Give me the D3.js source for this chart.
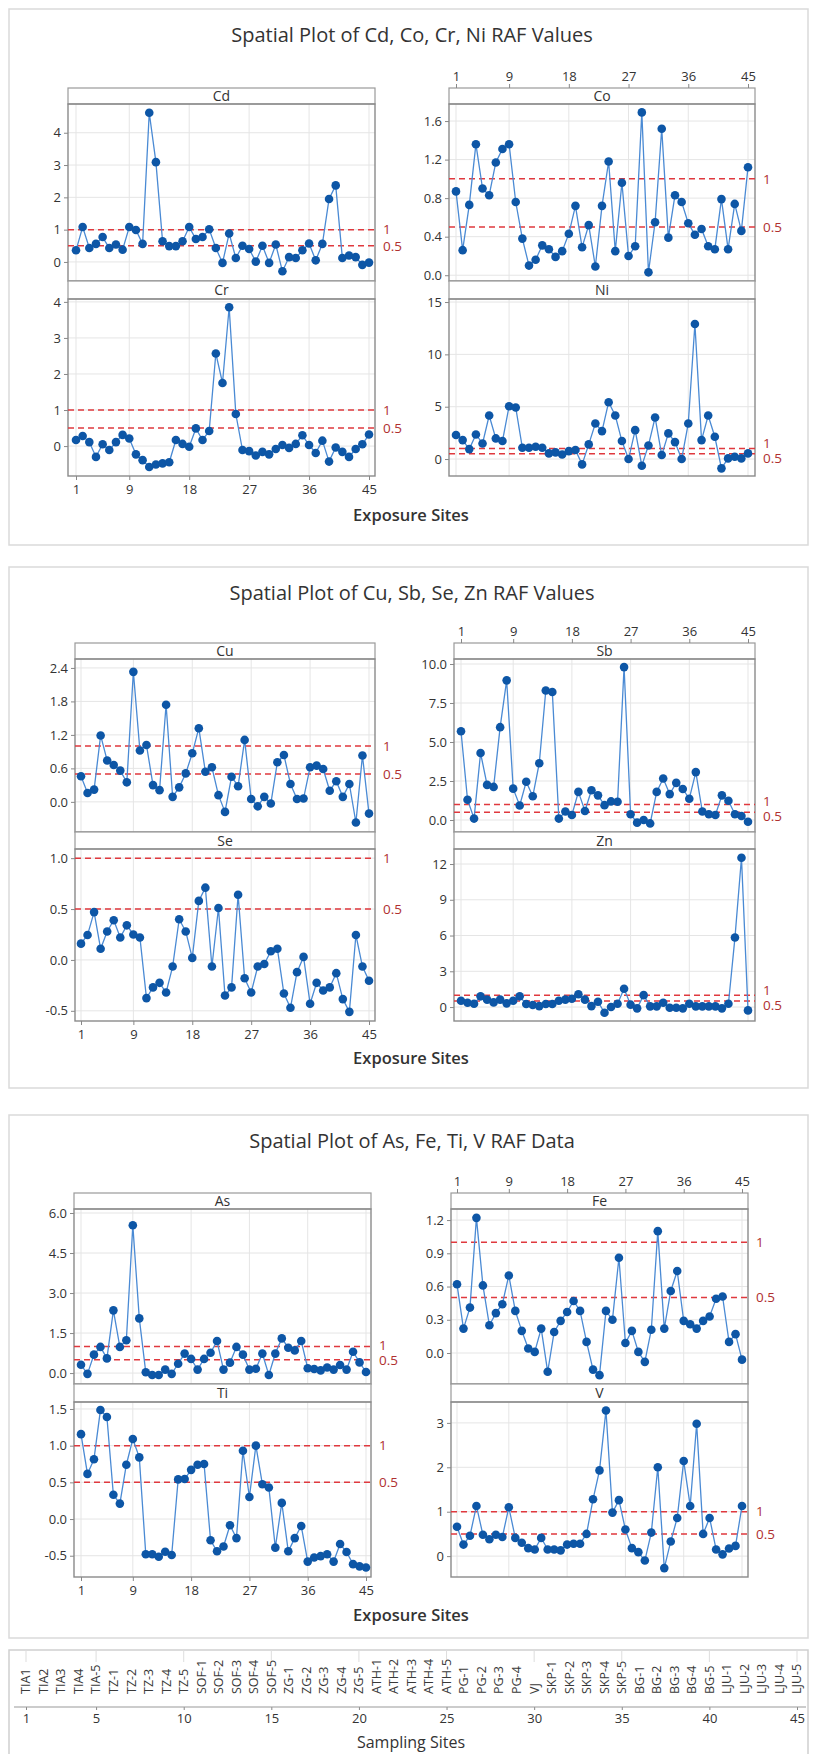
<!DOCTYPE html>
<html><head><meta charset="utf-8">
<script src="https://cdn.jsdelivr.net/npm/d3@7"></script>
<style>body{margin:0;background:#fff;} svg{display:block;font-family:"Open Sans","Noto Sans",sans-serif;}</style>
</head><body><svg id="c" width="816" height="1754"></svg>
<script>
// ---------- data ----------
const sites = d3.range(1, 46);
const siteLabels = ["TIA1","TIA2","TIA3","TIA4","TIA-5","TZ-1","TZ-2","TZ-3","TZ-4","TZ-5",
  "SOF-1","SOF-2","SOF-3","SOF-4","SOF-5","ZG-1","ZG-2","ZG-3","ZG-4","ZG-5",
  "ATH-1","ATH-2","ATH-3","ATH-4","ATH-5","PG-1","PG-2","PG-3","PG-4","VJ",
  "SKP-1","SKP-2","SKP-3","SKP-4","SKP-5","BG-1","BG-2","BG-3","BG-4","BG-5",
  "LJU-1","LJU-2","LJU-3","LJU-4","LJU-5"];
const xTicks = [1, 9, 18, 27, 36, 45];
const samplingTicks = [1, 5, 10, 15, 20, 25, 30, 35, 40, 45];
const refLevels = [1, 0.5];
const refLabels = ["1", "0.5"];

const cd = [0.36,1.08,0.43,0.56,0.77,0.43,0.54,0.38,1.08,0.99, 0.56,4.62,3.09,0.64,0.49,0.49,0.64,1.08,0.71,0.77,
  1.01,0.43,-0.03,0.88,0.12,0.5,0.4,0.01,0.5,-0.03, 0.54,-0.29,0.15,0.12,0.36,0.57,0.05,0.56,1.95,2.37, 0.12,0.2,0.15,-0.09,-0.02];
const co = [0.87,0.26,0.73,1.36,0.9,0.83,1.17,1.31,1.36,0.76, 0.38,0.1,0.16,0.31,0.27,0.19,0.25,0.43,0.72,0.29,
  0.52,0.09,0.72,1.18,0.25,0.96,0.2,0.3,1.69,0.03, 0.55,1.52,0.39,0.83,0.76,0.54,0.42,0.48,0.3,0.27, 0.79,0.27,0.74,0.46,1.12];
const cr = [0.17,0.28,0.11,-0.3,0.05,-0.11,0.11,0.31,0.21,-0.23, -0.39,-0.58,-0.51,-0.48,-0.45,0.17,0.06,-0.02,0.49,0.17,
  0.42,2.57,1.75,3.85,0.89,-0.11,-0.14,-0.26,-0.16,-0.23, -0.08,0.03,-0.05,0.06,0.3,0.03,-0.19,0.15,-0.43,-0.04, -0.16,-0.3,-0.08,0.05,0.32];
const ni = [2.29,1.81,0.95,2.35,1.49,4.16,1.97,1.72,5.05,4.93, 1.08,1.08,1.18,1.08,0.54,0.64,0.44,0.76,0.86,-0.51,
  1.4,3.4,2.67,5.43,4.16,1.72,0,2.76,-0.64,1.3, 3.97,0.38,2.45,1.62,0,3.4,12.9,1.81,4.16,2.13, -0.89,0.06,0.22,0.06,0.54];
const cu = [0.46,0.16,0.22,1.19,0.74,0.66,0.56,0.35,2.33,0.92, 1.02,0.3,0.21,1.74,0.09,0.26,0.51,0.87,1.32,0.54,
  0.62,0.12,-0.18,0.45,0.28,1.11,0.05,-0.08,0.09,-0.03, 0.71,0.84,0.32,0.05,0.06,0.62,0.65,0.59,0.2,0.37, 0.09,0.32,-0.37,0.83,-0.21];
const sb = [5.69,1.3,0.09,4.29,2.25,2.12,5.95,8.95,2.01,0.93, 2.45,1.52,3.64,8.3,8.2,0.09,0.54,0.32,1.8,0.58,
  1.91,1.58,0.95,1.19,1.17,9.8,0.37,-0.17,0,-0.22, 1.8,2.66,1.66,2.38,1.99,1.36,3.07,0.54,0.37,0.32, 1.58,1.23,0.37,0.26,-0.11];
const se = [0.16,0.245,0.47,0.11,0.28,0.39,0.22,0.34,0.25,0.22, -0.375,-0.27,-0.225,-0.32,-0.065,0.4,0.28,0.02,0.58,0.71,
  -0.065,0.51,-0.35,-0.27,0.64,-0.18,-0.32,-0.065,-0.04,0.085, 0.11,-0.33,-0.47,-0.12,0.03,-0.43,-0.225,-0.3,-0.27,-0.13, -0.385,-0.51,0.245,-0.065,-0.205];
const zn = [0.53,0.36,0.28,0.9,0.62,0.39,0.62,0.31,0.53,0.9, 0.25,0.17,0.08,0.25,0.25,0.53,0.62,0.7,1.07,0.62,
  0.08,0.45,-0.48,0,0.28,1.54,0.2,-0.11,1.0,0.06, 0.06,0.36,-0.06,-0.06,-0.11,0.28,0.06,0.06,0.06,0.06, -0.11,0.28,5.83,12.53,-0.28];
const asv = [0.31,-0.03,0.69,0.98,0.55,2.35,0.98,1.23,5.54,2.05, 0.03,-0.07,-0.07,0.13,-0.03,0.35,0.73,0.53,0.13,0.53,
  0.76,1.2,0.13,0.39,0.98,0.69,0.13,0.16,0.73,-0.07, 0.73,1.3,0.95,0.85,1.2,0.18,0.15,0.1,0.21,0.13, 0.3,0.13,0.8,0.4,0.04];
const fe = [0.62,0.22,0.41,1.22,0.61,0.25,0.36,0.44,0.70,0.38, 0.2,0.04,0.01,0.22,-0.17,0.19,0.29,0.37,0.47,0.38,
  0.1,-0.15,-0.2,0.38,0.3,0.86,0.09,0.2,0.01,-0.08, 0.21,1.1,0.22,0.56,0.74,0.29,0.26,0.22,0.29,0.33, 0.49,0.51,0.1,0.17,-0.06];
const ti = [1.157,0.615,0.815,1.485,1.39,0.33,0.21,0.74,1.09,0.84, -0.48,-0.48,-0.515,-0.445,-0.49,0.54,0.545,0.67,0.74,0.75,
  -0.29,-0.44,-0.375,-0.085,-0.26,0.93,0.3,1.0,0.475,0.43, -0.39,0.22,-0.44,-0.26,-0.095,-0.58,-0.525,-0.505,-0.48,-0.58, -0.34,-0.45,-0.615,-0.645,-0.66];
const vv = [0.66,0.26,0.46,1.13,0.48,0.38,0.48,0.43,1.1,0.41, 0.3,0.18,0.15,0.41,0.15,0.15,0.13,0.26,0.28,0.28,
  0.5,1.28,1.93,3.28,0.98,1.26,0.6,0.18,0.09,-0.1, 0.53,2.0,-0.27,0.33,0.86,2.14,1.13,2.98,0.5,0.86, 0.15,0.04,0.17,0.23,1.13];

// y tick labels per panel
const ticksCd = ["0","1","2","3","4"], ticksCo = ["0.0","0.4","0.8","1.2","1.6"], ticksCr = ["0","1","2","3","4"], ticksNi = ["0","5","10","15"];
const ticksCu = ["0.0","0.6","1.2","1.8","2.4"], ticksSb = ["0.0","2.5","5.0","7.5","10.0"], ticksSe = ["-0.5","0.0","0.5","1.0"], ticksZn = ["0","3","6","9","12"];
const ticksAs = ["0.0","1.5","3.0","4.5","6.0"], ticksFe = ["0.0","0.3","0.6","0.9","1.2"], ticksTi = ["-0.5","0.0","0.5","1.0","1.5"], ticksV = ["0","1","2","3"];

// ---------- layout ----------
const figures = [
  { title: "Spatial Plot of Cd, Co, Cr, Ni RAF Values", box: [9, 545], titleY: 42, xTitleY: 521,
    rows: [88, 104, 281, 299, 476], left: { edge: [68, 375], x: [76, 369] }, right: { edge: [449, 755], x: [456, 748] },
    panels: [
      { name: "Cd", data: cd, ticks: ticksCd, col: 0, row: 0, domain: [-0.59, 4.89] },
      { name: "Co", data: co, ticks: ticksCo, col: 1, row: 0, domain: [-0.06, 1.777] },
      { name: "Cr", data: cr, ticks: ticksCr, col: 0, row: 1, domain: [-0.83, 4.08] },
      { name: "Ni", data: ni, ticks: ticksNi, col: 1, row: 1, domain: [-1.62, 15.29] } ] },
  { title: "Spatial Plot of Cu, Sb, Se, Zn RAF Values", box: [567, 1088], titleY: 600, xTitleY: 1064,
    rows: [643, 659, 832, 849, 1021], left: { edge: [75, 375], x: [81, 369] }, right: { edge: [454, 755], x: [461, 748] },
    panels: [
      { name: "Cu", data: cu, ticks: ticksCu, col: 0, row: 0, domain: [-0.54, 2.56] },
      { name: "Sb", data: sb, ticks: ticksSb, col: 1, row: 0, domain: [-0.77, 10.32] },
      { name: "Se", data: se, ticks: ticksSe, col: 0, row: 1, domain: [-0.6, 1.09] },
      { name: "Zn", data: zn, ticks: ticksZn, col: 1, row: 1, domain: [-1.17, 13.26] } ] },
  { title: "Spatial Plot of As, Fe, Ti, V RAF Data", box: [1115, 1638], titleY: 1148, xTitleY: 1621,
    rows: [1193, 1209, 1384, 1402, 1577], left: { edge: [74, 371], x: [81, 366] }, right: { edge: [451, 748], x: [457, 742] },
    panels: [
      { name: "As", data: asv, ticks: ticksAs, col: 0, row: 0, domain: [-0.41, 6.15] },
      { name: "Fe", data: fe, ticks: ticksFe, col: 1, row: 0, domain: [-0.28, 1.3] },
      { name: "Ti", data: ti, ticks: ticksTi, col: 0, row: 1, domain: [-0.79, 1.595] },
      { name: "V", data: vv, ticks: ticksV, col: 1, row: 1, domain: [-0.47, 3.47] } ] }
];

const svg = d3.select("#c");
const TXT = "#333";
const FONT = '"Open Sans","Noto Sans",sans-serif';

function styleAxis(s, size) {
  s.select(".domain").remove();
  s.selectAll("line").attr("stroke", "#888");
  s.selectAll("text").attr("font-size", size).attr("fill", TXT).attr("font-family", FONT);
}

figures.forEach(f => {
  svg.append("rect").attr("x", 9).attr("y", f.box[0]).attr("width", 799).attr("height", f.box[1] - f.box[0])
    .attr("fill", "#fff").attr("stroke", "#dadada").attr("stroke-width", 1.5);
  svg.append("text").attr("x", 412).attr("y", f.titleY).attr("text-anchor", "middle")
    .attr("font-size", 20).attr("fill", TXT).text(f.title);
  svg.append("text").attr("x", 411).attr("y", f.xTitleY).attr("text-anchor", "middle")
    .attr("font-size", 16.5).attr("font-weight", 600).attr("fill", TXT).text("Exposure Sites");

  f.panels.forEach(p => {
    const c = p.col === 0 ? f.left : f.right;
    const st = p.row === 0 ? f.rows[0] : f.rows[2];
    const pt = p.row === 0 ? f.rows[1] : f.rows[3];
    const pb = p.row === 0 ? f.rows[2] : f.rows[4];
    const x = d3.scaleLinear().domain([1, 45]).range(c.x);
    const y = d3.scaleLinear().domain(p.domain).range([pb, pt]);
    const tickVals = p.ticks.map(Number);
    const g = svg.append("g");
    const [L, R] = c.edge;

    // gridlines
    g.append("g").selectAll("line").data(xTicks).join("line")
      .attr("x1", d => x(d)).attr("x2", d => x(d)).attr("y1", pt).attr("y2", pb)
      .attr("stroke", "#e5e5e5").attr("stroke-width", 1);
    g.append("g").selectAll("line").data(tickVals).join("line")
      .attr("x1", L).attr("x2", R).attr("y1", d => y(d)).attr("y2", d => y(d))
      .attr("stroke", "#e5e5e5").attr("stroke-width", 1);

    // strip
    g.append("rect").attr("x", L).attr("y", st).attr("width", R - L).attr("height", pt - st)
      .attr("fill", "#fff").attr("stroke", "#9a9a9a").attr("stroke-width", 1.2);
    g.append("text").attr("x", (L + R) / 2).attr("y", (st + pt) / 2 + 5).attr("text-anchor", "middle")
      .attr("font-size", 14).attr("fill", TXT).text(p.name);

    // frame
    g.append("rect").attr("x", L).attr("y", pt).attr("width", R - L).attr("height", pb - pt)
      .attr("fill", "none").attr("stroke", "#8a8a8a").attr("stroke-width", 1.4);

    // y axis
    g.append("g").attr("transform", `translate(${L},0)`)
      .call(d3.axisLeft(y).tickValues(tickVals).tickFormat((d, i) => p.ticks[i]).tickSize(4).tickPadding(3))
      .call(s => styleAxis(s, 13));

    // top axis (right column, top row)
    if (p.col === 1 && p.row === 0) {
      g.append("g").attr("transform", `translate(0,${st})`)
        .call(d3.axisTop(x).tickValues(xTicks).tickFormat(d3.format("d")).tickSize(4).tickPadding(3))
        .call(s => styleAxis(s, 13));
    }
    // bottom axis (left column, bottom row)
    if (p.col === 0 && p.row === 1) {
      g.append("g").attr("transform", `translate(0,${pb})`)
        .call(d3.axisBottom(x).tickValues(xTicks).tickFormat(d3.format("d")).tickSize(4).tickPadding(5))
        .call(s => styleAxis(s, 13));
    }

    // reference lines
    g.append("g").selectAll("line").data(refLevels).join("line")
      .attr("x1", L).attr("x2", R).attr("y1", d => y(d)).attr("y2", d => y(d))
      .attr("stroke", "#e0393e").attr("stroke-width", 1.5).attr("stroke-dasharray", "6,4");
    let ly = refLevels.map(d => y(d));
    const minSep = 15;
    if (ly[1] - ly[0] < minSep) { const m = (ly[0] + ly[1]) / 2; ly = [m - minSep / 2, m + minSep / 2]; }
    g.append("g").selectAll("text").data(refLabels).join("text")
      .attr("x", R + 8).attr("y", (d, i) => ly[i]).attr("dy", "0.35em")
      .attr("font-size", 13.5).attr("fill", "#b03030").text(d => d);

    // series line + points
    const pts = sites.map((s, i) => [s, p.data[i]]);
    g.append("path").datum(pts)
      .attr("d", d3.line().x(d => x(d[0])).y(d => y(d[1])))
      .attr("fill", "none").attr("stroke", "#4a8ad4").attr("stroke-width", 1.3);
    g.append("g").selectAll("circle").data(pts).join("circle")
      .attr("cx", d => x(d[0])).attr("cy", d => y(d[1])).attr("r", 4.3)
      .attr("fill", "#0d56a6");
  });
});

// ---------- sampling-sites axis ----------
const bx = d3.scaleLinear().domain([1, 45]).range([26, 797]);
svg.append("rect").attr("x", 9).attr("y", 1650).attr("width", 799).attr("height", 130)
  .attr("fill", "#fff").attr("stroke", "#cfcfcf").attr("stroke-width", 1.5);
svg.append("g").selectAll("line").data(samplingTicks).join("line")
  .attr("x1", d => bx(d)).attr("x2", d => bx(d)).attr("y1", 1650).attr("y2", 1662)
  .attr("stroke", "#dddddd");
svg.append("g").selectAll("text").data(siteLabels).join("text")
  .attr("transform", (d, i) => `translate(${bx(sites[i])},1694) rotate(-90)`)
  .attr("dy", "0.35em").attr("text-anchor", "start")
  .attr("font-size", 12.5).attr("fill", "#3a3a3a").text(d => d);
svg.append("g").attr("transform", "translate(0,1707)")
  .call(d3.axisBottom(bx).tickValues(samplingTicks).tickFormat(d3.format("d")).tickSize(3).tickPadding(4))
  .call(s => { styleAxis(s, 13); });
svg.append("line").attr("x1", 14).attr("x2", 806).attr("y1", 1707).attr("y2", 1707)
  .attr("stroke", "#999").attr("stroke-width", 1.2);
svg.append("text").attr("x", 411).attr("y", 1748).attr("text-anchor", "middle")
  .attr("font-size", 16).attr("fill", TXT).text("Sampling Sites");
</script></body></html>
